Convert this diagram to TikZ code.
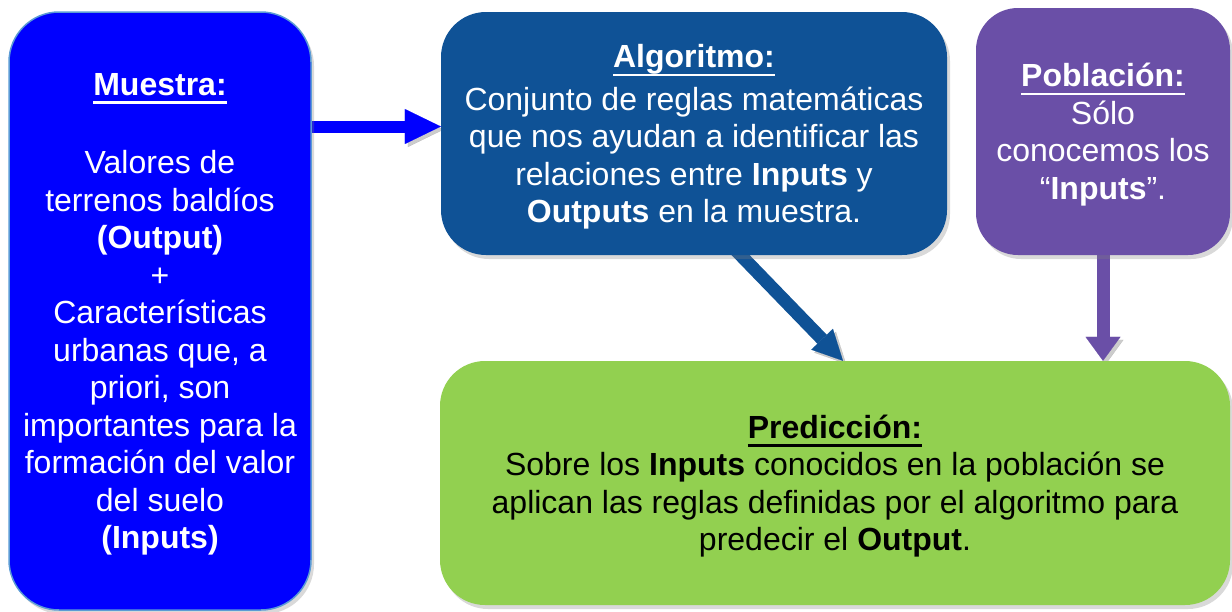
\documentclass[tikz,border=0pt]{standalone}
\usepackage{fontspec}
\setmainfont{Liberation Sans}
\usepackage{tikz}
\usetikzlibrary{arrows.meta,shadows,calc}
\pgfdeclarelayer{background}
\pgfsetlayers{background,main}
\definecolor{muestraBlue}{HTML}{0000FF}
\definecolor{muestraEdge}{HTML}{5B9BD5}
\definecolor{algoBlue}{HTML}{0F5296}
\definecolor{poblPurple}{HTML}{6A4FA7}
\definecolor{predGreen}{HTML}{92D050}
\newcommand{\boxtitle}[1]{\setbox0=\hbox{\textbf{#1}}\leavevmode\rlap{\rule[-8.5pt]{\wd0}{2.5pt}}\box0}

\begin{document}
\begin{tikzpicture}[x=1pt, y=-1pt]
	\tikzstyle{every node}=[font=\fontsize{32}{37.5}\selectfont, align=center, text=white, inner sep=0pt, text depth=-3pt]
	\tikzstyle{box}=[rounded corners=45pt, drop shadow={shadow xshift=3pt, shadow yshift=-4pt, opacity=0.3}]
	\tikzstyle{fat}=[line width=13pt, preaction={draw=black, opacity=0.2, transform canvas={shift={(3pt,-3pt)}}}]
	\useasboundingbox (0,0) rectangle (1232,611);

	\node[box, fill=muestraBlue, draw=muestraEdge, line width=1.5pt, rounded corners=50pt,
		minimum width=302pt, minimum height=598pt] (M) at (160,311)
		{\boxtitle{Muestra:}\\[41pt]Valores de\\terrenos baldíos\\\textbf{(Output)}\\+\\Características\\urbanas que, a\\priori, son\\importantes para la\\formación del valor\\del suelo\\\textbf{(Inputs)}};
	\node[box, fill=algoBlue, minimum width=506pt, minimum height=243pt] (A) at (694,133.5)
		{\boxtitle{Algoritmo:}\\[5pt]Conjunto de reglas matemáticas\\que nos ayudan a identificar las\\relaciones entre \textbf{Inputs} y\\\textbf{Outputs} en la muestra.};
	\node[box, fill=poblPurple, rounded corners=42pt, minimum width=254pt, minimum height=247pt] (P) at (1103,131.5)
		{\boxtitle{Población:}\\Sólo\\conocemos los\\“\textbf{Inputs}”.};
	\node[box, fill=predGreen, text=black, minimum width=790pt, minimum height=244pt] (R) at (835,483)
		{\boxtitle{Predicción:}\\Sobre los \textbf{Inputs} conocidos en la población se\\aplican las reglas definidas por el algoritmo para\\predecir el \textbf{Output}.};

	\coordinate (tipA) at ([yshift=7pt]A.west);
	\begin{pgfonlayer}{background}
	\draw[fat, line width=12pt, muestraBlue, -{Triangle[length=36pt, width=35pt, line width=0.1pt]}]
		(M.east |- tipA) -- (tipA);
	\draw[fat, algoBlue, -{Triangle[length=30pt, width=30pt, line width=0.1pt]}]
		($(A.south)+(37,-10)$) -- ([xshift=8pt]R.north);
	\draw[fat, poblPurple, -{Triangle[length=24pt, width=35pt, line width=0.1pt]}]
		(P.south) -- (P.south |- R.north);
	\end{pgfonlayer}
\end{tikzpicture}
\end{document}
